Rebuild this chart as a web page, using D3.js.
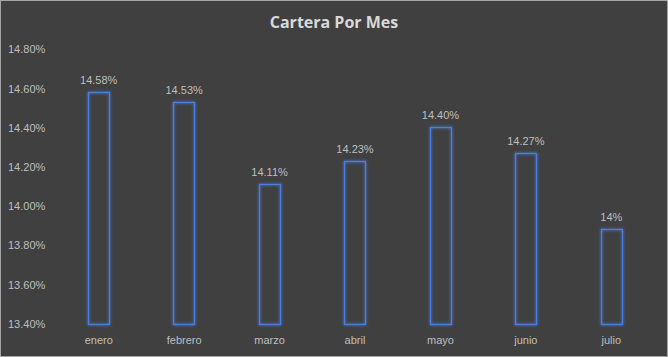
<!DOCTYPE html>
<html><head><meta charset="utf-8">
<script src="https://cdn.jsdelivr.net/npm/d3@7"></script>
<style>html,body{margin:0;padding:0;background:#404040;}svg{display:block;}</style>
</head><body>
<script>
const categories = ["enero","febrero","marzo","abril","mayo","junio","julio"];
const values = [14.58, 14.53, 14.11, 14.23, 14.40, 14.27, 13.88];
const valueLabels = ["14.58%","14.53%","14.11%","14.23%","14.40%","14.27%","14%"];
const yTicks = [13.4, 13.6, 13.8, 14.0, 14.2, 14.4, 14.6, 14.8];
const title = "Cartera Por Mes";

const W = 668, H = 357;
const svg = d3.select("body").append("svg").attr("width", W).attr("height", H);
const defs = svg.append("defs");
const f = defs.append("filter").attr("id","glow").attr("x","-50%").attr("y","-50%").attr("width","200%").attr("height","200%");
f.append("feGaussianBlur").attr("in","SourceGraphic").attr("stdDeviation",1.6).attr("result","b");
const m = f.append("feMerge");
m.append("feMergeNode").attr("in","b");
m.append("feMergeNode").attr("in","SourceGraphic");

svg.append("rect").attr("x",0.5).attr("y",0.5).attr("width",W-1).attr("height",H-1)
  .attr("fill","#404040").attr("stroke","#a6a6a6").attr("stroke-width",1);

const x = d3.scaleBand().domain(categories).range([56, 654]).paddingInner(0.75).paddingOuter(0.375);
const y = d3.scaleLinear().domain([13.4, 14.8]).range([323.5, 49]);

svg.append("text").attr("x", W/2).attr("y", 28).attr("text-anchor","middle")
  .attr("font-family","'Open Sans', sans-serif").attr("font-weight","bold").attr("font-size",16)
  .attr("fill","#d9d9d9").text(title);

const yAxis = d3.axisLeft(y).tickValues(yTicks).tickSize(0).tickFormat(d => d.toFixed(2) + "%");
const ga = svg.append("g").attr("transform","translate(8,0)").call(yAxis);
ga.select(".domain").remove();
ga.selectAll("text").attr("text-anchor","start").attr("x",0).attr("dy","0.35em")
  .attr("font-family","'Liberation Sans', sans-serif").attr("font-size",11).attr("fill","#bfbfbf");

const xAxis = d3.axisBottom(x).tickSize(0);
const gx = svg.append("g").attr("transform","translate(0,333)").call(xAxis);
gx.select(".domain").remove();
gx.selectAll("text").attr("font-family","'Liberation Sans', sans-serif").attr("font-size",11).attr("fill","#bfbfbf");

svg.append("g").selectAll("rect").data(values).join("rect")
  .attr("x",(d,i)=>Math.round(x(categories[i]))+0.5)
  .attr("y",d=>Math.round(y(d))+0.5)
  .attr("width",Math.round(x.bandwidth()))
  .attr("height",d=>Math.round(y(13.4))-Math.round(y(d)))
  .attr("fill","none").attr("stroke","#4a7fe0").attr("stroke-width",1.3)
  .attr("filter","url(#glow)");

svg.append("g").selectAll("text").data(values).join("text")
  .attr("x",(d,i)=>x(categories[i])+x.bandwidth()/2)
  .attr("y",d=>y(d)-8)
  .attr("text-anchor","middle")
  .attr("font-family","'Liberation Sans', sans-serif").attr("font-size",11).attr("fill","#bfbfbf")
  .text((d,i)=>valueLabels[i]);
</script>
</body></html>
